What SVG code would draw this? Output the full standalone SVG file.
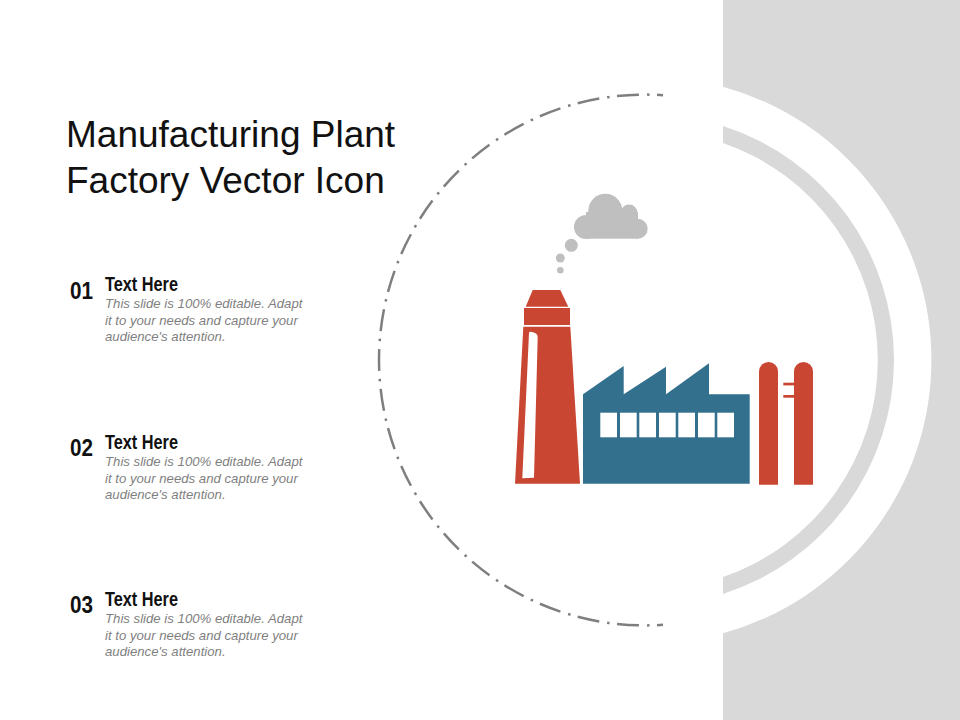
<svg xmlns="http://www.w3.org/2000/svg" width="960" height="720" viewBox="0 0 960 720">
<style>
.t{font-family:"Liberation Sans",Arial,sans-serif}
.title{font-size:37px;fill:#111}
.num{font-size:24px;font-weight:bold;fill:#111}
.head{font-size:20px;font-weight:bold;fill:#111}
.body{font-size:13.2px;font-style:italic;fill:#7f7f7f}
.red{fill:#C84632}.blue{fill:#33708D}.cloud{fill:#BFBFBF}.win{fill:#fff}
.dash{fill:none;stroke:#7f7f7f;stroke-width:2.5;stroke-dasharray:22 8 2.5 7.5;stroke-dashoffset:11}
</style>
<rect width="960" height="720" fill="#fff"/>
<g id="backdrop">
<rect x="723" y="0" width="237" height="720" fill="#D9D9D9"/>
<path d="M723 86.7A283.4 283.4 0 0 1 723 633.3Z" fill="#fff"/>
<path d="M723 126A245.6 245.6 0 0 1 723 594V577A229.5 229.5 0 0 0 723 143Z" fill="#D9D9D9"/>
</g>
<g id="connectors">
<path class="dash" d="M379 360A266 266 0 0 1 663 95.2"/>
<path class="dash" d="M379 360A266 266 0 0 0 663 624.8"/>
</g>
<g id="title"><text class="t title" x="66" y="147">Manufacturing Plant</text><text class="t title" x="66" y="193">Factory Vector Icon</text></g>
<g id="item-01">
<text class="t num" x="70" y="299" textLength="23" lengthAdjust="spacingAndGlyphs">01</text>
<text class="t head" x="105" y="291" textLength="73" lengthAdjust="spacingAndGlyphs">Text Here</text>
<text class="t body" x="105" y="308">This slide is 100% editable. Adapt</text>
<text class="t body" x="105" y="325">it to your needs and capture your</text>
<text class="t body" x="105" y="341">audience's attention.</text>
</g>
<g id="item-02">
<text class="t num" x="70" y="456" textLength="23" lengthAdjust="spacingAndGlyphs">02</text>
<text class="t head" x="105" y="449" textLength="73" lengthAdjust="spacingAndGlyphs">Text Here</text>
<text class="t body" x="105" y="466">This slide is 100% editable. Adapt</text>
<text class="t body" x="105" y="483">it to your needs and capture your</text>
<text class="t body" x="105" y="499">audience's attention.</text>
</g>
<g id="item-03">
<text class="t num" x="70" y="613" textLength="23" lengthAdjust="spacingAndGlyphs">03</text>
<text class="t head" x="105" y="606" textLength="73" lengthAdjust="spacingAndGlyphs">Text Here</text>
<text class="t body" x="105" y="623">This slide is 100% editable. Adapt</text>
<text class="t body" x="105" y="640">it to your needs and capture your</text>
<text class="t body" x="105" y="656">audience's attention.</text>
</g>
<g id="cloud" class="cloud">
<circle cx="605.3" cy="210.7" r="17"/><circle cx="629" cy="213" r="8.5"/><circle cx="637.7" cy="228.7" r="10"/><circle cx="586" cy="227" r="12"/>
<rect x="586" y="212" width="52" height="26.7"/>
<circle cx="571.3" cy="245.3" r="6.5"/><circle cx="560.3" cy="258" r="4.5"/><circle cx="560.3" cy="270.3" r="3.3"/>
</g>
<g id="chimney">
<polygon class="red" points="532.7,290 560.3,290 568.3,306.7 525.7,306.7"/>
<rect class="red" x="524" y="308" width="46" height="17"/>
<polygon class="red" points="523.3,326.7 570.3,326.7 580,483.7 515,483.7"/>
<path class="win" d="M529 333Q529 331.5 531 331.7Q537.5 332.5 537.7 337L534 477.7L522.3 478.3Z"/>
</g>
<g id="factory">
<polygon class="blue" points="583,394.3 623.7,366 623.7,394.3 666,366.7 666,394.3 709,363.3 709,394.3 749.7,394.3 749.7,483.7 583,483.7"/>
<rect class="win" x="600.3" y="412.7" width="16.7" height="24.6"/><rect class="win" x="620" y="412.7" width="16.7" height="24.6"/><rect class="win" x="639.3" y="412.7" width="16.7" height="24.6"/><rect class="win" x="659" y="412.7" width="16.7" height="24.6"/><rect class="win" x="678.3" y="412.7" width="16.7" height="24.6"/><rect class="win" x="698" y="412.7" width="16.7" height="24.6"/><rect class="win" x="717.3" y="412.7" width="16.7" height="24.6"/>
</g>
<g id="tanks" class="red">
<path d="M759 484.7V371.5A9.5 9.5 0 0 1 778 371.5V484.7Z"/>
<path d="M794 484.7V371.5A9.5 9.5 0 0 1 813 371.5V484.7Z"/>
<rect x="783.3" y="382.7" width="11" height="2.7"/><rect x="783.3" y="395" width="11" height="2.7"/>
</g>
</svg>
